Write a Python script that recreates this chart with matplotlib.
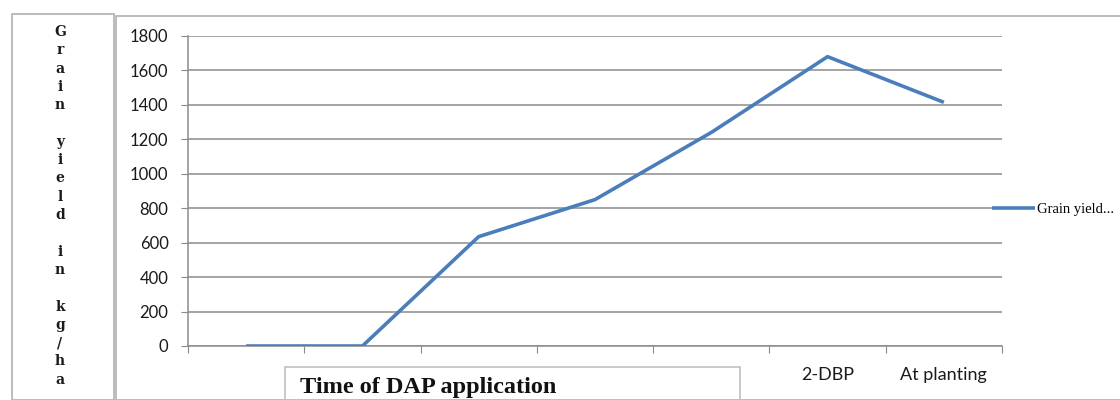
import matplotlib
matplotlib.use('Agg')
import matplotlib.pyplot as plt
from matplotlib.patches import Rectangle
from matplotlib.ticker import FixedLocator, MultipleLocator

categories = ['', '', '', '', '', '2-DBP', 'At planting']
grain_yield = [0, 0, 635, 850, 1240, 1680, 1415]
y_label = 'Grain yield in kg/ha'
x_title = 'Time of DAP application'
legend_label = 'Grain yield...'

W, H = 1120, 400
fig = plt.figure(figsize=(W / 100, H / 100), dpi=100)

# outer boxes (left label box + chart area box)
fig.patches.append(Rectangle((12 / W, 0), (114 - 12) / W, 1 - 14 / H,
                             transform=fig.transFigure, fill=False,
                             edgecolor='#b0b0b0', linewidth=1.2))
fig.patches.append(Rectangle((116 / W, 0), 1.1, 1 - 16 / H,
                             transform=fig.transFigure, fill=False,
                             edgecolor='#b0b0b0', linewidth=1.2))

ax = fig.add_axes([188 / W, 1 - 346 / H, (1002 - 188) / W, (346 - 36) / H])
xs = [i + 0.5 for i in range(len(grain_yield))]
ax.plot(xs, grain_yield, color='#4a7ebb', linewidth=2.6,
        solid_capstyle='butt', label=legend_label, zorder=3)

ax.set_xlim(0, len(categories))
ax.set_ylim(0, 1800)
ax.yaxis.set_major_locator(MultipleLocator(200))
ax.xaxis.set_major_locator(FixedLocator(range(len(categories) + 1)))
ax.xaxis.set_minor_locator(FixedLocator(xs))
ax.set_xticklabels([''] * (len(categories) + 1))
ax.set_xticklabels(categories, minor=True)
ax.tick_params(axis='x', which='major', length=5, color='#888888', direction='out')
ax.tick_params(axis='x', which='minor', length=0, pad=15, labelsize=13,
               labelcolor='#1a1a1a')
ax.tick_params(axis='y', length=5, color='#888888', direction='out', pad=9,
               labelsize=12, labelcolor='#1a1a1a')
for lab in ax.get_xticklabels(minor=True) + ax.get_yticklabels():
    lab.set_family('Lato')

ax.grid(axis='y', color='#8c8c8c', linewidth=1.1)
ax.set_axisbelow(True)
for s in ['top', 'right']:
    ax.spines[s].set_visible(False)
for s in ['left', 'bottom']:
    ax.spines[s].set_color('#8c8c8c')
    ax.spines[s].set_linewidth(1.1)

ax.legend(loc='center left', bbox_to_anchor=(0.971, 0.44), frameon=False,
          handlelength=2.95, handletextpad=0.15,
          prop={'family': 'Liberation Serif', 'size': 10.5})

# stacked vertical y label
y0 = 32
for ch in y_label:
    if ch != ' ':
        fig.text(60 / W, 1 - y0 / H, ch, ha='center', va='center',
                 family='DejaVu Serif', fontweight='bold', fontsize=10,
                 color='#1a1a1a')
    y0 += 18.3

# x title box
fig.patches.append(Rectangle((285 / W, 0), (740 - 285) / W, 1 - 367 / H,
                             transform=fig.transFigure, fill=False,
                             edgecolor='#c0c0c0', linewidth=1.2))
fig.text(300 / W, 1 - 387 / H, x_title, ha='left', va='center',
         family='Liberation Serif', fontweight='bold', fontsize=17.5,
         color='#111111')

fig.savefig('out.png', dpi=100)
